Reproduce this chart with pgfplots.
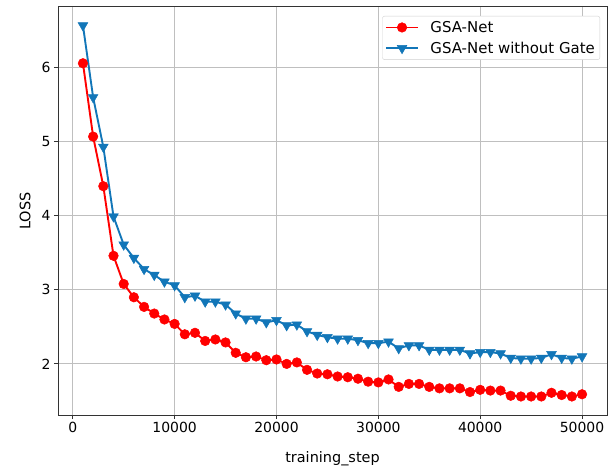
\documentclass[border=0pt]{standalone}
\usepackage{fontspec}
\setmainfont{DejaVu Sans}
\usepackage{pgfplots}
\pgfplotsset{compat=1.18}
\definecolor{myred}{RGB}{255,0,0}
\definecolor{myblue}{RGB}{18,118,184}
\begin{document}
\begin{tikzpicture}
\begin{axis}[
  scale only axis,
  width=549bp, height=408bp,
  xmin=-1450, xmax=52450,
  ymin=1.31, ymax=6.82,
  xtick={0,10000,20000,30000,40000,50000},
  ytick={2,3,4,5,6},
  scaled x ticks=false,
  /pgf/number format/assume math mode=true,
  xticklabel style={/pgf/number format/fixed,/pgf/number format/1000 sep={}},
  tick label style={font=\fontsize{14}{16}\selectfont},
  xlabel={training\_step},
  ylabel={LOSS},
  every axis x label/.style={at={(axis description cs:0.5,-0.108)}, anchor=center, font=\fontsize{14.5}{16}\selectfont},
  every axis y label/.style={at={(axis description cs:-0.06,0.5)}, rotate=90, anchor=center, font=\fontsize{14.5}{16}\selectfont},
  grid=major,
  grid style={line width=0.9pt, draw=black!25},
  axis line style={line width=1pt, draw=black!80},
  tick style={line width=0.9pt, draw=black!80},
  tick align=outside,
  major tick length=4bp,
  xtick pos=bottom, ytick pos=left,
  legend style={at={(1,1)}, xshift=-7bp, yshift=-9bp, anchor=north east, draw=black!18, rounded corners=2pt,
    font=\fontsize{15}{17}\selectfont, row sep=4pt, inner sep=3pt},
  legend cell align=left,
  legend image code/.code={\draw[mark repeat=2,mark phase=2] plot coordinates {(0cm,0cm)(0.55cm,0cm)(1.1cm,0cm)};\path (1.45cm,0);},
]
\addplot[color=myred, line width=1.9pt, mark=*, mark size=4.8bp, mark options={fill=myred, draw=myred, line width=0.5pt}] coordinates {
(1000,6.06)(2000,5.07)(3000,4.40)(4000,3.46)(5000,3.08)(6000,2.90)(7000,2.77)(8000,2.68)(9000,2.60)(10000,2.54)
(11000,2.40)(12000,2.42)(13000,2.31)(14000,2.33)(15000,2.29)(16000,2.15)(17000,2.09)(18000,2.10)(19000,2.05)(20000,2.06)
(21000,2.00)(22000,2.02)(23000,1.92)(24000,1.87)(25000,1.86)(26000,1.83)(27000,1.82)(28000,1.80)(29000,1.76)(30000,1.75)
(31000,1.79)(32000,1.69)(33000,1.73)(34000,1.73)(35000,1.69)(36000,1.67)(37000,1.67)(38000,1.67)(39000,1.62)(40000,1.65)
(41000,1.64)(42000,1.64)(43000,1.57)(44000,1.56)(45000,1.56)(46000,1.56)(47000,1.61)(48000,1.58)(49000,1.56)(50000,1.59)
};
\addlegendentry{GSA-Net}
\addplot[color=myblue, line width=1.9pt, mark=triangle*, mark size=5.6bp, mark options={fill=myblue, draw=myblue, line width=0.5pt, rotate=180}] coordinates {
(1000,6.57)(2000,5.60)(3000,4.93)(4000,3.99)(5000,3.61)(6000,3.43)(7000,3.28)(8000,3.20)(9000,3.11)(10000,3.06)
(11000,2.90)(12000,2.92)(13000,2.84)(14000,2.84)(15000,2.80)(16000,2.68)(17000,2.61)(18000,2.61)(19000,2.56)(20000,2.59)
(21000,2.52)(22000,2.53)(23000,2.44)(24000,2.39)(25000,2.36)(26000,2.34)(27000,2.34)(28000,2.32)(29000,2.28)(30000,2.28)
(31000,2.30)(32000,2.21)(33000,2.25)(34000,2.25)(35000,2.19)(36000,2.19)(37000,2.19)(38000,2.19)(39000,2.14)(40000,2.16)
(41000,2.16)(42000,2.14)(43000,2.08)(44000,2.07)(45000,2.07)(46000,2.08)(47000,2.13)(48000,2.08)(49000,2.07)(50000,2.10)
};
\addlegendentry{GSA-Net without Gate}
\end{axis}
\pgfresetboundingbox
\path[use as bounding box] ([shift={(-58bp,-53bp)}]current axis.south west) rectangle ([shift={(6bp,7bp)}]current axis.north east);
\end{tikzpicture}
\end{document}
